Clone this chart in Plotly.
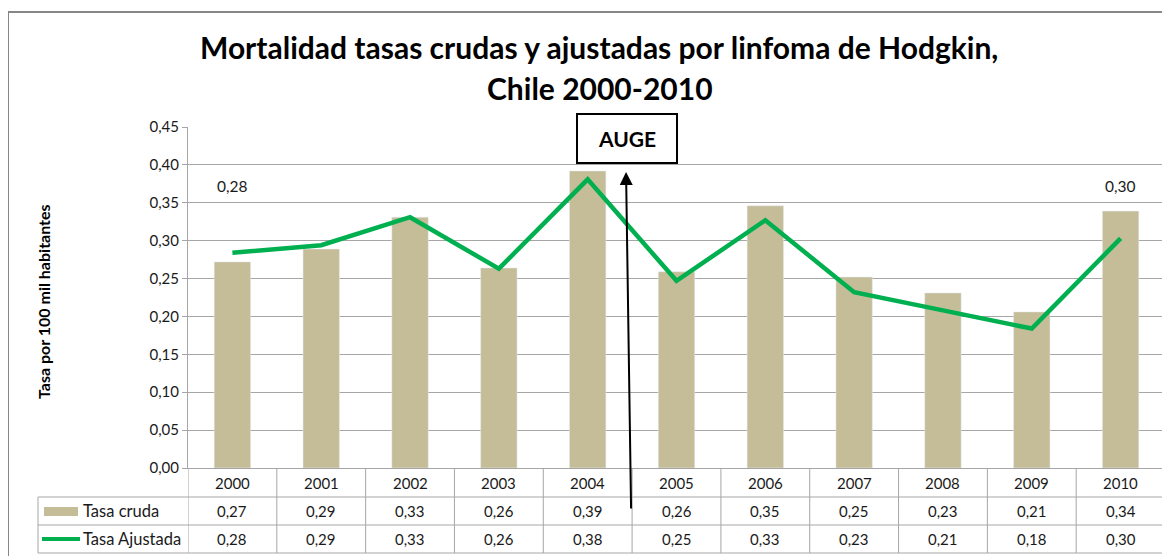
import plotly.graph_objects as go

years = ["2000", "2001", "2002", "2003", "2004", "2005", "2006", "2007", "2008", "2009", "2010"]
tasa_cruda = [0.272, 0.289, 0.331, 0.264, 0.392, 0.259, 0.346, 0.252, 0.231, 0.206, 0.339]
tasa_ajustada = [0.284, 0.294, 0.331, 0.263, 0.381, 0.247, 0.327, 0.232, 0.208, 0.184, 0.303]
series_names = ["Tasa cruda", "Tasa Ajustada"]
y_ticks = [0.00, 0.05, 0.10, 0.15, 0.20, 0.25, 0.30, 0.35, 0.40, 0.45]

FONT = "Lato"
BAR_COLOR = "#C4BD97"
LINE_COLOR = "#00B050"
GRID = "#A6A6A6"
TXT = "#1a1a1a"

OFF = 8  # page body margin
W, H = 1170 - OFF, 556 - OFF
# plot area in page pixels: x 188..1165, y 127..468
L = 188 - OFF
R = W - (1165 - OFF)
T = 127 - OFF
B = H - (468 - OFF)
pw = W - L - R
ph = H - T - B


def px_x(px):
    return (px - OFF - L) / pw


def px_y(py):
    return (H - B - (py - OFF)) / ph


def fmt(v):
    return f"{v:.2f}".replace(".", ",")


n = len(years)
idx = list(range(n))

fig = go.Figure()
fig.add_trace(go.Bar(x=idx, y=tasa_cruda, name=series_names[0], marker_color=BAR_COLOR,
                     width=0.41, showlegend=False))
fig.add_trace(go.Scatter(x=idx, y=tasa_ajustada, name=series_names[1], mode="lines",
                         line=dict(color=LINE_COLOR, width=4.5), showlegend=False))

shapes = []
ann = []

# outer chart border (top and left)
shapes.append(dict(type="line", xref="paper", yref="paper", x0=px_x(8), x1=px_x(1200),
                   y0=px_y(12), y1=px_y(12), line=dict(color="#878787", width=2)))
shapes.append(dict(type="line", xref="paper", yref="paper", x0=px_x(8), x1=px_x(8),
                   y0=px_y(12), y1=px_y(600), line=dict(color="#878787", width=2)))

# data table grid
row_lines = [497, 525, 553]
for py in row_lines:
    shapes.append(dict(type="line", xref="paper", yref="paper", x0=px_x(38), x1=1,
                       y0=px_y(py), y1=px_y(py), line=dict(color=GRID, width=1)))
for k in range(n + 1):
    shapes.append(dict(type="line", xref="x", yref="paper", x0=k - 0.5, x1=k - 0.5,
                       y0=0, y1=px_y(553), line=dict(color=GRID, width=1)))
shapes.append(dict(type="line", xref="paper", yref="paper", x0=px_x(38), x1=px_x(38),
                   y0=px_y(497), y1=px_y(553), line=dict(color=GRID, width=1)))

# legend keys
shapes.append(dict(type="rect", xref="paper", yref="paper", x0=px_x(44), x1=px_x(78),
                   y0=px_y(516), y1=px_y(507), fillcolor=BAR_COLOR, line=dict(width=0)))
shapes.append(dict(type="line", xref="paper", yref="paper", x0=px_x(42), x1=px_x(80),
                   y0=px_y(539), y1=px_y(539), line=dict(color=LINE_COLOR, width=4)))

ann.append(dict(text=series_names[0], xref="paper", yref="paper", x=px_x(81), y=px_y(511),
                xanchor="left", yanchor="middle", showarrow=False,
                font=dict(family=FONT, size=16.5, color=TXT)))
ann.append(dict(text=series_names[1], xref="paper", yref="paper", x=px_x(81), y=px_y(539),
                xanchor="left", yanchor="middle", showarrow=False,
                font=dict(family=FONT, size=16.5, color=TXT)))

for i in idx:
    ann.append(dict(text=years[i], xref="x", yref="paper", x=i, y=px_y(483),
                    xanchor="center", yanchor="middle", showarrow=False,
                    font=dict(family=FONT, size=15, color=TXT)))
    ann.append(dict(text=fmt(tasa_cruda[i]), xref="x", yref="paper", x=i, y=px_y(511),
                    xanchor="center", yanchor="middle", showarrow=False,
                    font=dict(family=FONT, size=15, color=TXT)))
    ann.append(dict(text=fmt(tasa_ajustada[i]), xref="x", yref="paper", x=i, y=px_y(539),
                    xanchor="center", yanchor="middle", showarrow=False,
                    font=dict(family=FONT, size=15, color=TXT)))

# data labels for first and last points of adjusted series
for i in [0, n - 1]:
    ann.append(dict(text=fmt(tasa_ajustada[i]), xref="x", yref="y", x=i, y=0.372,
                    xanchor="center", yanchor="middle", showarrow=False,
                    font=dict(family=FONT, size=15.5, color=TXT)))

# title
ann.append(dict(text="<b>Mortalidad tasas crudas y ajustadas por linfoma de Hodgkin,</b>",
                xref="paper", yref="paper", x=px_x(599), y=px_y(47), xanchor="center",
                yanchor="middle", showarrow=False, font=dict(family=FONT, size=30, color="#000")))
ann.append(dict(text="<b>Chile 2000-2010</b>",
                xref="paper", yref="paper", x=px_x(600), y=px_y(88), xanchor="center",
                yanchor="middle", showarrow=False, font=dict(family=FONT, size=30, color="#000")))

# y axis title
ann.append(dict(text="<b>Tasa por 100 mil habitantes</b>", xref="paper", yref="paper",
                x=px_x(43), y=px_y(302), textangle=-90, xanchor="center", yanchor="middle",
                showarrow=False, font=dict(family=FONT, size=16, color="#000")))

# AUGE arrow and box
ann.append(dict(text="", xref="x", yref="y", x=4.432, y=0.3906, axref="x", ayref="y",
                ax=4.489, ay=-0.0554, showarrow=True, arrowhead=2, arrowsize=1.3,
                arrowwidth=2, arrowcolor="#000"))
ann.append(dict(text="<b>AUGE</b>", xref="x", yref="y", x=4.44, y=0.4342,
                xanchor="center", yanchor="middle", showarrow=False, width=96, height=45,
                bordercolor="#000", borderwidth=2, borderpad=1, bgcolor="#fff",
                font=dict(family=FONT, size=21, color="#000")))

fig.update_layout(
    width=W, height=H, autosize=False,
    margin=dict(l=L, r=R, t=T, b=B),
    paper_bgcolor="#fff", plot_bgcolor="#fff",
    separators=",.",
    shapes=shapes, annotations=ann,
    xaxis=dict(range=[-0.5, n - 0.5], showticklabels=False, showgrid=False, zeroline=False,
               showline=True, linecolor=GRID, linewidth=1, ticks="", fixedrange=True),
    yaxis=dict(range=[0, 0.45], tickvals=y_ticks, tickformat=".2f", showgrid=True,
               gridcolor=GRID, gridwidth=1, zeroline=False, showline=True, linecolor=GRID,
               linewidth=1, ticks="outside", ticklen=5, tickcolor=GRID,
               tickfont=dict(family=FONT, size=15, color=TXT)),
)

fig.write_html("out.html")
